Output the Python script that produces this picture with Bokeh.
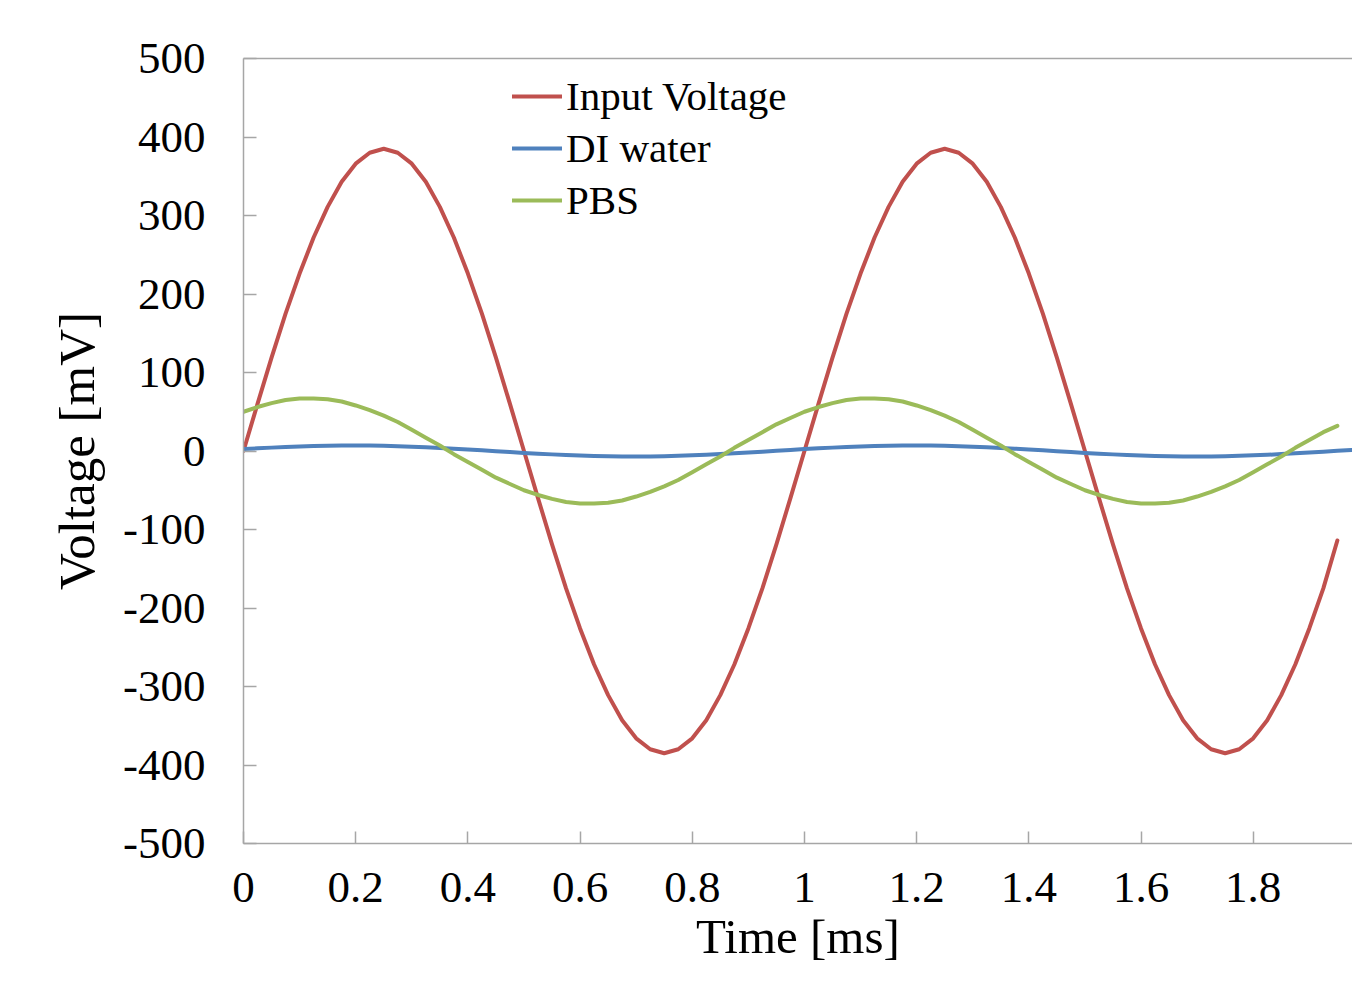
from bokeh.plotting import figure
from bokeh.models import Range1d, FixedTicker, LinearAxis, ColumnDataSource
from bokeh.embed import file_html
from bokeh.resources import INLINE

# ---- data ----
time_ms = [0, 0.025, 0.05, 0.075, 0.1, 0.125, 0.15, 0.175, 0.2, 0.225,
           0.25, 0.275, 0.3, 0.325, 0.35, 0.375, 0.4, 0.425, 0.45, 0.475,
           0.5, 0.525, 0.55, 0.575, 0.6, 0.625, 0.65, 0.675, 0.7, 0.725,
           0.75, 0.775, 0.8, 0.825, 0.85, 0.875, 0.9, 0.925, 0.95, 0.975,
           1.0, 1.025, 1.05, 1.075, 1.1, 1.125, 1.15, 1.175, 1.2, 1.225,
           1.25, 1.275, 1.3, 1.325, 1.35, 1.375, 1.4, 1.425, 1.45, 1.475,
           1.5, 1.525, 1.55, 1.575, 1.6, 1.625, 1.65, 1.675, 1.7, 1.725,
           1.75, 1.775, 1.8, 1.825, 1.85, 1.875, 1.9, 1.925, 1.95, 1.975,
           2.0]

input_voltage = [0, 60, 119, 175, 226, 272, 311, 343, 366, 380,
                 385, 380, 366, 343, 311, 272, 226, 175, 119, 60,
                 0, -60, -119, -175, -226, -272, -311, -343, -366, -380,
                 -385, -380, -366, -343, -311, -272, -226, -175, -119, -60,
                 0, 60, 119, 175, 226, 272, 311, 343, 366, 380,
                 385, 380, 366, 343, 311, 272, 226, 175, 119, 60,
                 0, -60, -119, -175, -226, -272, -311, -343, -366, -380,
                 -385, -380, -366, -343, -311, -272, -226, -175, -114]

di_water = [2.4, 3.4, 4.3, 5.1, 5.8, 6.3, 6.7, 7.0, 7.0, 6.9,
            6.6, 6.1, 5.5, 4.8, 3.9, 3.0, 1.9, 0.9, -0.2, -1.3,
            -2.4, -3.4, -4.3, -5.1, -5.8, -6.3, -6.7, -7.0, -7.0, -6.9,
            -6.6, -6.1, -5.5, -4.8, -3.9, -3.0, -1.9, -0.9, 0.2, 1.3,
            2.4, 3.4, 4.3, 5.1, 5.8, 6.3, 6.7, 7.0, 7.0, 6.9,
            6.6, 6.1, 5.5, 4.8, 3.9, 3.0, 1.9, 0.9, -0.2, -1.3,
            -2.4, -3.4, -4.3, -5.1, -5.8, -6.3, -6.7, -7.0, -7.0, -6.9,
            -6.6, -6.1, -5.5, -4.8, -3.9, -3.0, -1.9, -0.9, 0.2, 1.3,
            2.4]

pbs = [50, 56, 61, 65, 67, 67, 66, 63, 58, 52,
       45, 37, 27, 17, 7, -4, -14, -24, -34, -42,
       -50, -56, -61, -65, -67, -67, -66, -63, -58, -52,
       -45, -37, -27, -17, -7, 4, 14, 24, 34, 42,
       50, 56, 61, 65, 67, 67, 66, 63, 58, 52,
       45, 37, 27, 17, 7, -4, -14, -24, -34, -42,
       -50, -56, -61, -65, -67, -67, -66, -63, -58, -52,
       -45, -37, -27, -17, -7, 4, 14, 24, 32]

series_names = ["Input Voltage", "DI water", "PBS"]
series_colors = ["#C0504D", "#4F81BD", "#9BBB59"]

x_ticks = [0, 0.2, 0.4, 0.6, 0.8, 1, 1.2, 1.4, 1.6, 1.8, 2]
x_tick_labels = ["0", "0.2", "0.4", "0.6", "0.8", "1", "1.2", "1.4", "1.6", "1.8", "2"]
y_ticks = [-500, -400, -300, -200, -100, 0, 100, 200, 300, 400, 500]
y_tick_labels = ["-500", "-400", "-300", "-200", "-100", "0", "100", "200", "300", "400", "500"]

x_label = "Time [ms]"
y_label = "Voltage [mV]"

FONT = "Liberation Serif"
AXIS_COLOR = "#a6a6a6"

p = figure(width=1352, height=966, output_backend="svg", toolbar_location=None,
           x_range=Range1d(0, 1.977), y_range=Range1d(-500, 500),
           min_border_left=243, min_border_right=0, min_border_top=58,
           min_border_bottom=122)
p.outline_line_color = None
p.xgrid.visible = False
p.ygrid.visible = False
p.background_fill_color = "white"
p.border_fill_color = "white"

n_short = len(input_voltage)
src_in = ColumnDataSource(dict(x=time_ms[:n_short], y=input_voltage))
src_di = ColumnDataSource(dict(x=time_ms[:len(di_water)], y=di_water))
src_pbs = ColumnDataSource(dict(x=time_ms[:len(pbs)], y=pbs))

for src, name, col in zip([src_in, src_di, src_pbs], series_names, series_colors):
    p.line("x", "y", source=src, line_color=col, line_width=4,
           line_join="round", line_cap="round", legend_label=name)

# axes
xa = p.xaxis[0]
xa.ticker = FixedTicker(ticks=x_ticks)
xa.major_label_overrides = {t: l for t, l in zip(x_ticks, x_tick_labels)}
ya = p.yaxis[0]
ya.ticker = FixedTicker(ticks=y_ticks)
ya.major_label_overrides = {t: l for t, l in zip(y_ticks, y_tick_labels)}

for ax in (xa, ya):
    ax.axis_line_color = AXIS_COLOR
    ax.axis_line_width = 1.5
    ax.major_tick_line_color = AXIS_COLOR
    ax.major_tick_line_width = 1.5
    ax.major_tick_out = 0
    ax.minor_tick_in = 0
    ax.minor_tick_out = 0
    ax.major_label_text_font = FONT
    ax.major_label_text_font_size = "45px"
    ax.major_label_text_color = "black"
    ax.axis_label_text_font = FONT
    ax.axis_label_text_font_size = "51px"
    ax.axis_label_text_font_style = "normal"
    ax.axis_label_text_color = "black"

xa.major_tick_in = 12
ya.major_tick_in = 13
xa.axis_label = x_label
ya.axis_label = y_label
xa.major_label_standoff = 29
xa.axis_label_standoff = 4
xa.axis_label_text_font_size = "49px"
ya.major_label_standoff = 38
ya.axis_label_standoff = 15

# top frame line
top = LinearAxis(ticker=FixedTicker(ticks=[]), major_tick_in=0, major_tick_out=0,
                 minor_tick_in=0, minor_tick_out=0, axis_line_color=AXIS_COLOR,
                 axis_line_width=1.5, major_label_text_font_size="0px")
p.add_layout(top, "above")

# legend
lg = p.legend[0]
lg.location = (269, 617)
lg.padding = 0
lg.margin = 0
lg.spacing = 0
lg.glyph_width = 50
lg.glyph_height = 52
lg.label_height = 52
lg.label_standoff = 4
lg.label_text_font = FONT
lg.label_text_font_size = "41px"
lg.label_text_color = "black"
lg.border_line_color = None
lg.background_fill_alpha = 0

open("out.html", "w").write(file_html(p, INLINE))
